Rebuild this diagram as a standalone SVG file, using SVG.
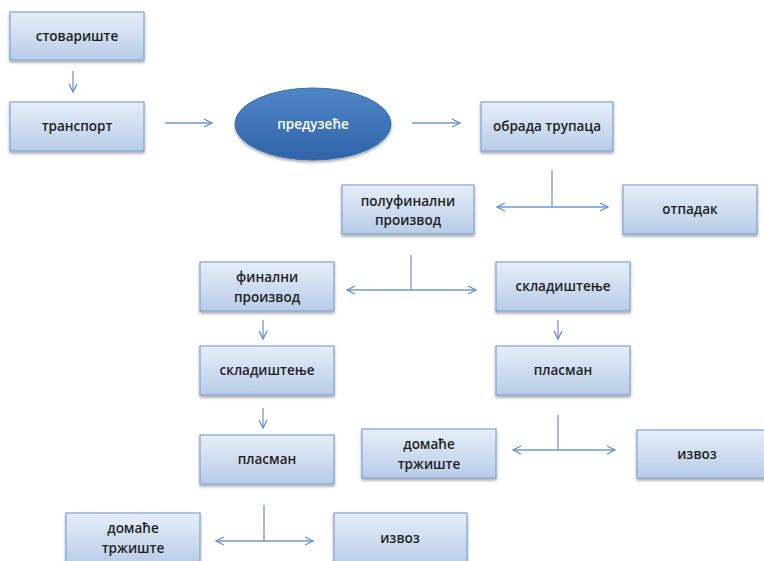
<svg xmlns="http://www.w3.org/2000/svg" width="764" height="561" viewBox="0 0 764 561">
<defs>
<linearGradient id="bg" x1="0" y1="0" x2="0" y2="1">
<stop offset="0" stop-color="#e6eef8"/>
<stop offset="1" stop-color="#b8cce8"/>
</linearGradient>
<linearGradient id="eg" x1="0" y1="0" x2="0" y2="1">
<stop offset="0" stop-color="#4f86c8"/>
<stop offset="1" stop-color="#2f64a8"/>
</linearGradient>
<filter id="sh" x="-10%" y="-10%" width="120%" height="140%">
<feGaussianBlur in="SourceAlpha" stdDeviation="1.5"/>
<feOffset dx="0" dy="2"/>
<feComponentTransfer><feFuncA type="linear" slope="0.35"/></feComponentTransfer>
<feMerge><feMergeNode/><feMergeNode in="SourceGraphic"/></feMerge>
</filter>
<marker id="ah" viewBox="0 0 10 10" refX="9" refY="5" markerWidth="10" markerHeight="10" markerUnits="userSpaceOnUse" orient="auto-start-reverse">
<path d="M1,1 L9,5 L1,9" fill="none" stroke="#5f8fcc" stroke-width="1.3"/>
</marker>
</defs>
<style>
.b{fill:url(#bg);stroke:#7fa2d4;stroke-width:1.2;filter:url(#sh)}
.t{font-family:"Open Sans","Liberation Sans",sans-serif;font-size:13.5px;font-weight:600;fill:#1f1f1f;text-anchor:middle}
.w{fill:#ffffff}
.c line{stroke:#6f98d0;stroke-width:1.3;fill:none}
</style>
<rect width="764" height="561" fill="#ffffff"/>
<g class="c">
<line x1="73" y1="71" x2="73" y2="92" marker-end="url(#ah)"/>
<line x1="165" y1="123" x2="212" y2="123" marker-end="url(#ah)"/>
<line x1="412" y1="123" x2="460" y2="123" marker-end="url(#ah)"/>
<line x1="552" y1="170" x2="552" y2="207"/>
<line x1="497" y1="207" x2="608" y2="207" marker-start="url(#ah)" marker-end="url(#ah)"/>
<line x1="411" y1="255" x2="411" y2="290"/>
<line x1="347" y1="290" x2="476" y2="290" marker-start="url(#ah)" marker-end="url(#ah)"/>
<line x1="263" y1="320" x2="263" y2="339" marker-end="url(#ah)"/>
<line x1="558" y1="320" x2="558" y2="339" marker-end="url(#ah)"/>
<line x1="263" y1="408" x2="263" y2="428" marker-end="url(#ah)"/>
<line x1="558" y1="415" x2="558" y2="450"/>
<line x1="513" y1="450" x2="615" y2="450" marker-start="url(#ah)" marker-end="url(#ah)"/>
<line x1="264" y1="505" x2="264" y2="541"/>
<line x1="216" y1="541" x2="313" y2="541" marker-start="url(#ah)" marker-end="url(#ah)"/>
</g>
<g id="n1"><rect class="b" x="10" y="12" width="134" height="48"/><text class="t" x="77" y="41">стовариште</text></g>
<g id="n2"><rect class="b" x="10" y="102" width="134" height="49"/><text class="t" x="77" y="131">транспорт</text></g>
<g id="n3"><ellipse cx="313" cy="124" rx="78" ry="36" fill="url(#eg)" stroke="#3a6aa8" stroke-width="1" filter="url(#sh)"/><text class="t w" x="313" y="129">предузеће</text></g>
<g id="n4"><rect class="b" x="481" y="102" width="132" height="49"/><text class="t" x="547" y="131">обрада трупаца</text></g>
<g id="n5"><rect class="b" x="342" y="185" width="132" height="49"/><text class="t" x="408" y="206">полуфинални</text><text class="t" x="408" y="225">производ</text></g>
<g id="n6"><rect class="b" x="623" y="185" width="134" height="49"/><text class="t" x="690" y="214">отпадак</text></g>
<g id="n7"><rect class="b" x="200" y="262" width="134" height="49"/><text class="t" x="267" y="282">финални</text><text class="t" x="267" y="302">производ</text></g>
<g id="n8"><rect class="b" x="496" y="262" width="134" height="49"/><text class="t" x="563" y="291">складиштење</text></g>
<g id="n9"><rect class="b" x="200" y="346" width="134" height="49"/><text class="t" x="267" y="375">складиштење</text></g>
<g id="n10"><rect class="b" x="496" y="346" width="134" height="49"/><text class="t" x="563" y="375">пласман</text></g>
<g id="n11"><rect class="b" x="200" y="435" width="134" height="49"/><text class="t" x="267" y="464">пласман</text></g>
<g id="n12"><rect class="b" x="362" y="429" width="134" height="49"/><text class="t" x="429" y="449">домаће</text><text class="t" x="429" y="469">тржиште</text></g>
<g id="n13"><rect class="b" x="637" y="430" width="134" height="48"/><text class="t" x="697" y="459">извоз</text></g>
<g id="n14"><rect class="b" x="66" y="513" width="134" height="52"/><text class="t" x="133" y="533">домаће</text><text class="t" x="133" y="553">тржиште</text></g>
<g id="n15"><rect class="b" x="334" y="513" width="133" height="52"/><text class="t" x="400" y="543">извоз</text></g>
</svg>
